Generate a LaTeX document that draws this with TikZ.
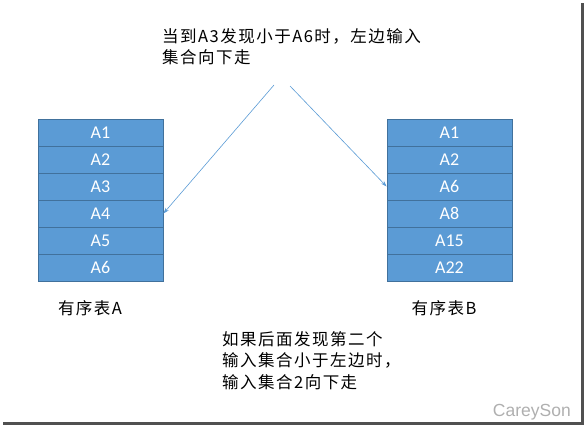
\documentclass[tikz,border=0pt]{standalone}
\usepackage{fontspec}
\usepackage{tikz}
\usetikzlibrary{arrows.meta}
\setmainfont{Carlito}
\newfontfamily\cjk[LetterSpace=9]{Noto Sans CJK SC}
\newfontfamily\markfont{Liberation Sans}
\definecolor{cellblue}{RGB}{91, 155, 213}
\definecolor{celledge}{RGB}{65, 113, 156}
\definecolor{framegray}{RGB}{80, 80, 80}
\definecolor{markgray}{RGB}{175, 175, 175}

\begin{document}
\begin{tikzpicture}[x=1pt, y=-1pt,
  cell/.style={draw=celledge, fill=cellblue, line width=0.8pt, minimum width=125pt,
    minimum height=27pt, inner sep=0pt, text=white, font=\fontsize{18}{18}\selectfont},
  note/.style={anchor=north west, align=left, inner sep=0pt,
    font=\cjk\fontsize{16.5}{21.5}\selectfont},
  flow/.style={cellblue, line width=0.6pt, -{Stealth[length=6pt, width=4pt]}}]
\useasboundingbox (0,0) rectangle (585,426);

% Sorted lists
\foreach \lbl [count=\i] in {A1,A2,A3,A4,A5,A6}
  \node[cell] (a\i) at (100.5, 105.5+27*\i) {\lbl};
\foreach \lbl [count=\i] in {A1,A2,A6,A8,A15,A22}
  \node[cell] (b\i) at (449.5, 105.5+27*\i) {\lbl};

\node[font=\cjk\fontsize{16.5}{16.5}\selectfont] (listA) at (90,308) {有序表A};
\node[font=\cjk\fontsize{16.5}{16.5}\selectfont] (listB) at (444,308) {有序表B};

% Notes
\node[note] (top) at (162,28) {当到A3发现小于A6时，左边输入\\集合向下走};
\node[note] (bottom) at (222,331) {如果后面发现第二个\\输入集合小于左边时，\\输入集合2向下走};

% Arrows
\coordinate (startA) at (274,85);
\coordinate (startB) at (290,86);
\draw[flow] (startA) -- (a4.east);
\draw[flow] (startB) -- (b3.west);

% Watermark and frame
\node[anchor=base east, inner sep=0pt, text=markgray, font=\markfont\fontsize{17.5}{17.5}\selectfont] (mark) at (571,416.5) {CareySon};
\draw[framegray, line width=2.5pt] (3,423.5) -- (582.5,423.5) -- (582.5,3);
\end{tikzpicture}
\end{document}
